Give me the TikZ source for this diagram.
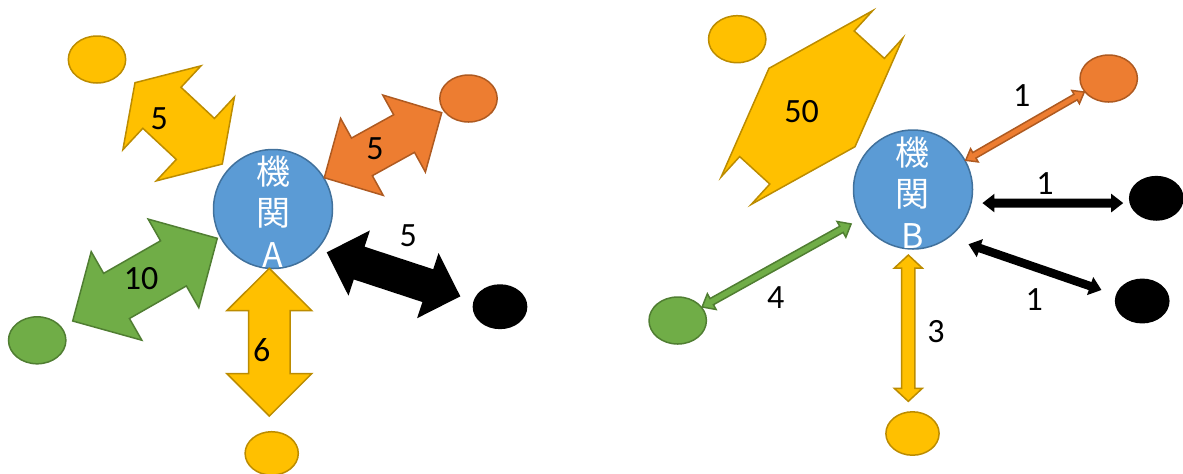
\documentclass[tikz,border=0pt]{standalone}
\usepackage{fontspec}
\setmainfont{Carlito}
\newfontfamily\cjk{Noto Sans CJK JP}
\usepackage{xcolor}
\definecolor{mauxanh}{HTML}{5B9BD5}
\definecolor{vienxanh}{HTML}{41719C}
\definecolor{mauvang}{HTML}{FFC000}
\definecolor{vienvang}{HTML}{BC8C00}
\definecolor{maucam}{HTML}{ED7D31}
\definecolor{viencam}{HTML}{AE5A21}
\definecolor{mauluc}{HTML}{70AD47}
\definecolor{vienluc}{HTML}{507E32}
\usepackage{tikz}
\usetikzlibrary{calc,shapes.geometric,positioning}
%%% mui ten hai dau: [kieu]{dau}{cuoi}{nua than}{nua mui}{dai mui}
\newcommand{\muiten}[6][]{%
	\path[#1] (#2)
	-- ($(#2)!#6!(#3)!#5!90:(#3)$) -- ($(#2)!#6!(#3)!#4!90:(#3)$)
	-- ($(#3)!#6!(#2)!#4!-90:(#2)$) -- ($(#3)!#6!(#2)!#5!-90:(#2)$)
	-- (#3)
	-- ($(#3)!#6!(#2)!#5!90:(#2)$) -- ($(#3)!#6!(#2)!#4!90:(#2)$)
	-- ($(#2)!#6!(#3)!#4!-90:(#3)$) -- ($(#2)!#6!(#3)!#5!-90:(#3)$)
	-- cycle;
}
\begin{document}
\begin{tikzpicture}[x=0.5pt,y=-0.5pt]
		\tikzset{
			coquan/.style={circle,draw=vienxanh,fill=mauxanh,line width=0.75pt,minimum size=59.5pt,inner sep=0pt},
			chucoquan/.style={font=\cjk\fontsize{17}{20.75}\selectfont,text=white,align=center,inner sep=0pt},
			doitac/.style={ellipse,line width=0.75pt,minimum width=28.7pt,minimum height=23.5pt,inner sep=0pt},
			nho/.style={minimum width=26.6pt,minimum height=21.7pt},
			vang/.style={fill=mauvang,draw=vienvang},
			cam/.style={fill=maucam,draw=viencam},
			luc/.style={fill=mauluc,draw=vienluc},
			den/.style={fill=black,draw=black},
			nenmui/.style={line width=0.75pt},
			stylefont/.style={font=\fontsize{17}{20}\selectfont,inner sep=0pt}
		}
		\useasboundingbox (0,0) rectangle (1183,473);
		%%%Vẽ cơ quan A
		\node[coquan] (A) at (273,209) {};
		\node[chucoquan] (tA) at (273,211.7) {機\\関\\A};
		\node[doitac,vang] (vA1) at (97,59.5) {};
		\node[doitac,cam] (cA) at (468.5,98.5) {};
		\node[doitac,den,nho] (dA) at (500,306.7) {};
		\node[doitac,luc] (lA) at (37.2,340.3) {};
		\node[doitac,vang,nho] (vA2) at (271.7,453.4) {};
		%%%mũi tên to
		\coordinate (vA1s) at (135,82.7);   \coordinate (vA1e) at (222.3,164);
		\coordinate (cAs) at (324.3,177.7); \coordinate (cAe) at (441.7,112.7);
		\coordinate (lAs) at (217.3,238.3); \coordinate (lAe) at (72.7,321);
		\coordinate (vA2s) at (269.3,268.3); \coordinate (vA2e) at (269.3,416);
		\coordinate (dAs) at (327.7,252.7); \coordinate (dAe) at (459.3,296);
		\muiten[nenmui,vang]{vA1s}{vA1e}{14pt}{28.65pt}{18.4pt}
		\muiten[nenmui,cam]{cAs}{cAe}{10.75pt}{22pt}{21.5pt}
		\muiten[nenmui,luc]{lAs}{lAe}{13pt}{25.5pt}{25.25pt}
		\muiten[nenmui,vang]{vA2s}{vA2e}{10.4pt}{21.25pt}{21.2pt}
		\muiten[nenmui,den]{dAs}{dAe}{8.25pt}{16.25pt}{16.2pt}
		\node[stylefont] (nvA1) at (159.3,119) {5};
		\node[stylefont] (ncA) at (375,148.3) {5};
		\node[stylefont] (nlA) at (141,278.3) {10};
		\node[stylefont] (nvA2) at (261.7,350) {6};
		\node[stylefont] (ndA) at (408.3,236) {5};
		%%%Vẽ cơ quan B
		\node[coquan] (B) at (913,189.5) {};
		\node[chucoquan] (tB) at (912.7,192.5) {機\\関\\B};
		\node[doitac,vang] (vB1) at (737.2,39.2) {};
		\node[doitac,cam] (cB) at (1108.7,78.5) {};
		\node[doitac,den,nho] (dB1) at (1156.3,198.3) {};
		\node[doitac,den,nho] (dB2) at (1142.2,301) {};
		\node[doitac,luc] (lB) at (677.7,320.5) {};
		\node[doitac,vang,nho] (vB2) at (912.5,433.5) {};
		%%%mũi tên nhỏ
		\coordinate (vB1s) at (769,68.3); \coordinate (vB1e) at (855,146.7);
		\coordinate (dB1s) at ($(B.-13)+(12,0)$);
		\coordinate (dB1e) at ($(dB1.west|-dB1s)+(-7,0)$);
		\coordinate (dB2s) at ($(B.-53)!10.8pt!(dB2.167)$);
		\coordinate (dB2e) at ($(dB2.167)!8.25pt!(B.-53)$);
		\coordinate (lBs) at ($(B)!35.45pt!(lB)$);
		\coordinate (vB2s) at ($(B.south)+(-4.7,5.3)$);
		\coordinate (vB2e) at ($(vB2.north)+(-4.2,-9.7)$);
		\muiten[nenmui,vang]{vB1s}{vB1e}{42.5pt}{56.25pt}{18.9pt}
		\muiten[nenmui,cam]{B.29.6}{cB.209.6}{1.6pt}{3.8pt}{5pt}
		\muiten[nenmui,den]{dB1s}{dB1e}{1.9pt}{3.9pt}{5pt}
		\muiten[nenmui,den]{dB2s}{dB2e}{1.75pt}{4pt}{5pt}
		\muiten[nenmui,luc]{lBs}{lB.29.1}{1.75pt}{4.5pt}{5.5pt}
		\muiten[nenmui,vang]{vB2s}{vB2e}{3.3pt}{7pt}{6.5pt}
		\node[stylefont] (nvB1) at (801.7,111.7) {50};
		\node[stylefont] (ncB) at (1021.7,96) {1};
		\node[stylefont] (ndB1) at (1045,183.3) {1};
		\node[stylefont] (ndB2) at (1034.3,300) {1};
		\node[stylefont] (nlB) at (775.7,297.3) {4};
		\node[stylefont] (nvB2) at (936,331.7) {3};
	\end{tikzpicture}
\end{document}
